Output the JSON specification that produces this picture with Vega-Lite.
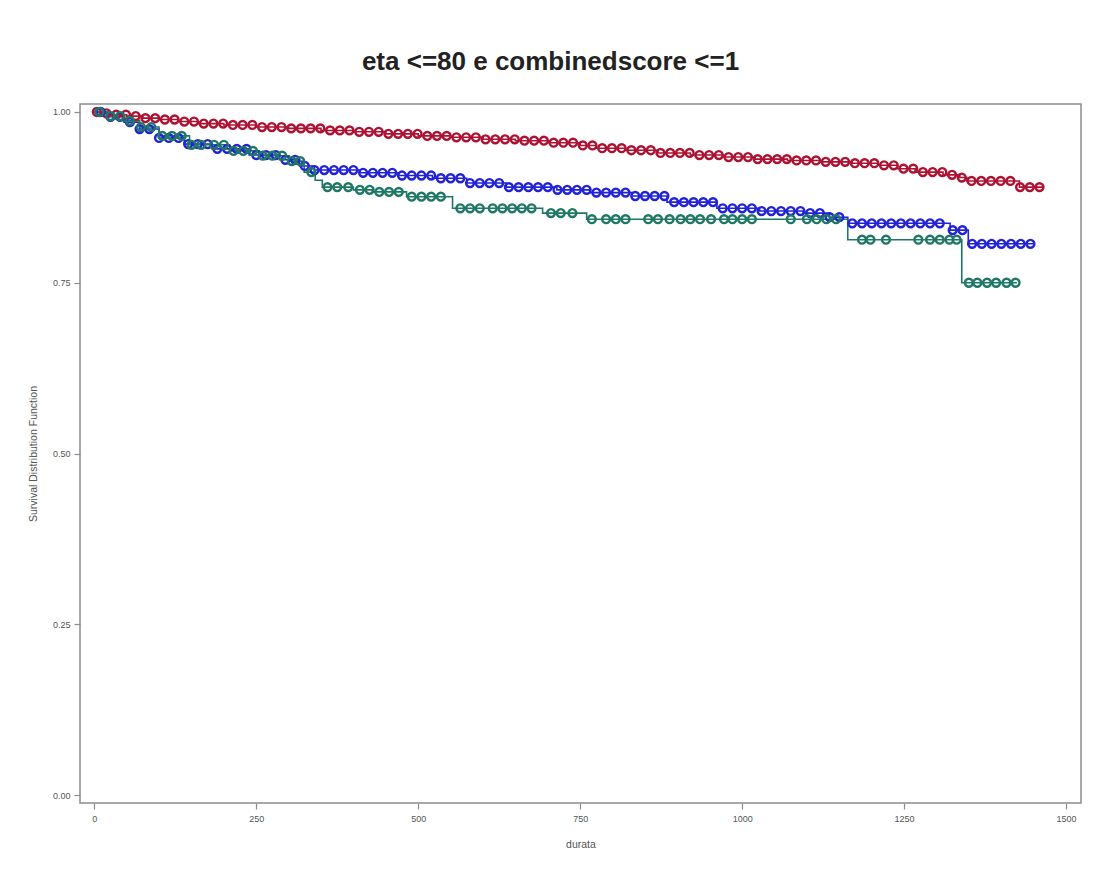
{
  "$schema": "https://vega.github.io/schema/vega-lite/v6.json",
  "width": 1001,
  "height": 699,
  "autosize": {"type": "none"},
  "padding": {"left": 80, "top": 104, "right": 22, "bottom": 66},
  "background": "white",
  "config": {
    "view": {"stroke": "#8c8c8c", "strokeWidth": 1.5},
    "font": "Liberation Sans",
    "axis": {
      "domain": false,
      "grid": false,
      "tickColor": "#8c8c8c",
      "tickSize": 6,
      "tickWidth": 1.2,
      "labelColor": "#555555",
      "labelFontSize": 9,
      "labelFont": "Liberation Sans",
      "titleColor": "#555555",
      "titleFontSize": 10.5,
      "titleFontWeight": "normal",
      "titleFont": "Liberation Sans"
    }
  },
  "title": {
    "text": "eta <=80 e combinedscore <=1",
    "fontSize": 26,
    "fontWeight": "bold",
    "color": "#222222",
    "font": "Liberation Sans",
    "anchor": "middle",
    "frame": "group",
    "dx": -30,
    "dy": 24,
    "offset": 31,
    "baseline": "alphabetic"
  },
  "datasets": {
    "steps": [
      {"g": "1", "t": 0, "s": 1.000}, {"g": "1", "t": 10, "s": 0.998}, {"g": "1", "t": 30, "s": 0.996}, {"g": "1", "t": 50, "s": 0.994},
      {"g": "1", "t": 75, "s": 0.991}, {"g": "1", "t": 100, "s": 0.989}, {"g": "1", "t": 130, "s": 0.986}, {"g": "1", "t": 160, "s": 0.983},
      {"g": "1", "t": 200, "s": 0.981}, {"g": "1", "t": 250, "s": 0.978}, {"g": "1", "t": 300, "s": 0.976}, {"g": "1", "t": 350, "s": 0.973},
      {"g": "1", "t": 400, "s": 0.971}, {"g": "1", "t": 450, "s": 0.968}, {"g": "1", "t": 500, "s": 0.965}, {"g": "1", "t": 550, "s": 0.963},
      {"g": "1", "t": 600, "s": 0.960}, {"g": "1", "t": 650, "s": 0.958}, {"g": "1", "t": 700, "s": 0.955}, {"g": "1", "t": 750, "s": 0.951},
      {"g": "1", "t": 775, "s": 0.947}, {"g": "1", "t": 820, "s": 0.944}, {"g": "1", "t": 870, "s": 0.940}, {"g": "1", "t": 920, "s": 0.937},
      {"g": "1", "t": 970, "s": 0.934}, {"g": "1", "t": 1020, "s": 0.931}, {"g": "1", "t": 1070, "s": 0.929}, {"g": "1", "t": 1120, "s": 0.927},
      {"g": "1", "t": 1170, "s": 0.925}, {"g": "1", "t": 1210, "s": 0.922}, {"g": "1", "t": 1240, "s": 0.917}, {"g": "1", "t": 1267, "s": 0.912},
      {"g": "1", "t": 1310, "s": 0.908}, {"g": "1", "t": 1336, "s": 0.904}, {"g": "1", "t": 1347, "s": 0.899}, {"g": "1", "t": 1428, "s": 0.890},
      {"g": "1", "t": 1465, "s": 0.890},

      {"g": "2", "t": 0, "s": 1.000}, {"g": "2", "t": 23, "s": 0.993}, {"g": "2", "t": 46, "s": 0.985}, {"g": "2", "t": 70, "s": 0.975},
      {"g": "2", "t": 100, "s": 0.962}, {"g": "2", "t": 139, "s": 0.953}, {"g": "2", "t": 182, "s": 0.946}, {"g": "2", "t": 239, "s": 0.937},
      {"g": "2", "t": 286, "s": 0.930}, {"g": "2", "t": 317, "s": 0.921}, {"g": "2", "t": 340, "s": 0.915}, {"g": "2", "t": 410, "s": 0.911},
      {"g": "2", "t": 470, "s": 0.907}, {"g": "2", "t": 522, "s": 0.903}, {"g": "2", "t": 575, "s": 0.896}, {"g": "2", "t": 636, "s": 0.890},
      {"g": "2", "t": 714, "s": 0.886}, {"g": "2", "t": 765, "s": 0.882}, {"g": "2", "t": 830, "s": 0.877}, {"g": "2", "t": 884, "s": 0.868},
      {"g": "2", "t": 961, "s": 0.859}, {"g": "2", "t": 1027, "s": 0.855}, {"g": "2", "t": 1094, "s": 0.852}, {"g": "2", "t": 1135, "s": 0.846},
      {"g": "2", "t": 1163, "s": 0.837}, {"g": "2", "t": 1321, "s": 0.827}, {"g": "2", "t": 1349, "s": 0.807}, {"g": "2", "t": 1449, "s": 0.807},

      {"g": "3", "t": 0, "s": 1.000}, {"g": "3", "t": 23, "s": 0.994}, {"g": "3", "t": 46, "s": 0.987}, {"g": "3", "t": 70, "s": 0.978},
      {"g": "3", "t": 100, "s": 0.965}, {"g": "3", "t": 147, "s": 0.952}, {"g": "3", "t": 209, "s": 0.943}, {"g": "3", "t": 255, "s": 0.936},
      {"g": "3", "t": 301, "s": 0.928}, {"g": "3", "t": 324, "s": 0.912}, {"g": "3", "t": 341, "s": 0.900}, {"g": "3", "t": 352, "s": 0.890},
      {"g": "3", "t": 400, "s": 0.886}, {"g": "3", "t": 429, "s": 0.883}, {"g": "3", "t": 482, "s": 0.876}, {"g": "3", "t": 553, "s": 0.859},
      {"g": "3", "t": 692, "s": 0.852}, {"g": "3", "t": 760, "s": 0.843}, {"g": "3", "t": 1163, "s": 0.813}, {"g": "3", "t": 1339, "s": 0.750},
      {"g": "3", "t": 1424, "s": 0.750}
    ],
    "cens": [
      {"g": "1", "t": 4, "s": 1.000}, {"g": "1", "t": 19, "s": 0.998}, {"g": "1", "t": 34, "s": 0.996}, {"g": "1", "t": 49, "s": 0.996},
      {"g": "1", "t": 64, "s": 0.994}, {"g": "1", "t": 79, "s": 0.991}, {"g": "1", "t": 94, "s": 0.991}, {"g": "1", "t": 109, "s": 0.989},
      {"g": "1", "t": 124, "s": 0.989}, {"g": "1", "t": 139, "s": 0.986}, {"g": "1", "t": 154, "s": 0.986}, {"g": "1", "t": 169, "s": 0.983},
      {"g": "1", "t": 184, "s": 0.983}, {"g": "1", "t": 199, "s": 0.983}, {"g": "1", "t": 214, "s": 0.981}, {"g": "1", "t": 229, "s": 0.981},
      {"g": "1", "t": 244, "s": 0.981}, {"g": "1", "t": 259, "s": 0.978}, {"g": "1", "t": 274, "s": 0.978}, {"g": "1", "t": 289, "s": 0.978},
      {"g": "1", "t": 304, "s": 0.976}, {"g": "1", "t": 319, "s": 0.976}, {"g": "1", "t": 334, "s": 0.976}, {"g": "1", "t": 349, "s": 0.976},
      {"g": "1", "t": 364, "s": 0.973}, {"g": "1", "t": 379, "s": 0.973}, {"g": "1", "t": 394, "s": 0.973}, {"g": "1", "t": 409, "s": 0.971},
      {"g": "1", "t": 424, "s": 0.971}, {"g": "1", "t": 439, "s": 0.971}, {"g": "1", "t": 454, "s": 0.968}, {"g": "1", "t": 469, "s": 0.968},
      {"g": "1", "t": 484, "s": 0.968}, {"g": "1", "t": 499, "s": 0.968}, {"g": "1", "t": 514, "s": 0.965}, {"g": "1", "t": 529, "s": 0.965},
      {"g": "1", "t": 544, "s": 0.965}, {"g": "1", "t": 559, "s": 0.963}, {"g": "1", "t": 574, "s": 0.963}, {"g": "1", "t": 589, "s": 0.963},
      {"g": "1", "t": 604, "s": 0.960}, {"g": "1", "t": 619, "s": 0.960}, {"g": "1", "t": 634, "s": 0.960}, {"g": "1", "t": 649, "s": 0.960},
      {"g": "1", "t": 664, "s": 0.958}, {"g": "1", "t": 679, "s": 0.958}, {"g": "1", "t": 694, "s": 0.958}, {"g": "1", "t": 709, "s": 0.955},
      {"g": "1", "t": 724, "s": 0.955}, {"g": "1", "t": 739, "s": 0.955}, {"g": "1", "t": 754, "s": 0.951}, {"g": "1", "t": 769, "s": 0.951},
      {"g": "1", "t": 784, "s": 0.947}, {"g": "1", "t": 799, "s": 0.947}, {"g": "1", "t": 814, "s": 0.947}, {"g": "1", "t": 829, "s": 0.944},
      {"g": "1", "t": 844, "s": 0.944}, {"g": "1", "t": 859, "s": 0.944}, {"g": "1", "t": 874, "s": 0.940}, {"g": "1", "t": 889, "s": 0.940},
      {"g": "1", "t": 904, "s": 0.940}, {"g": "1", "t": 919, "s": 0.940}, {"g": "1", "t": 934, "s": 0.937}, {"g": "1", "t": 949, "s": 0.937},
      {"g": "1", "t": 964, "s": 0.937}, {"g": "1", "t": 979, "s": 0.934}, {"g": "1", "t": 994, "s": 0.934}, {"g": "1", "t": 1009, "s": 0.934},
      {"g": "1", "t": 1024, "s": 0.931}, {"g": "1", "t": 1039, "s": 0.931}, {"g": "1", "t": 1054, "s": 0.931}, {"g": "1", "t": 1069, "s": 0.931},
      {"g": "1", "t": 1084, "s": 0.929}, {"g": "1", "t": 1099, "s": 0.929}, {"g": "1", "t": 1114, "s": 0.929}, {"g": "1", "t": 1129, "s": 0.927},
      {"g": "1", "t": 1144, "s": 0.927}, {"g": "1", "t": 1159, "s": 0.927}, {"g": "1", "t": 1174, "s": 0.925}, {"g": "1", "t": 1189, "s": 0.925},
      {"g": "1", "t": 1204, "s": 0.925}, {"g": "1", "t": 1219, "s": 0.922}, {"g": "1", "t": 1234, "s": 0.922}, {"g": "1", "t": 1249, "s": 0.917},
      {"g": "1", "t": 1264, "s": 0.917}, {"g": "1", "t": 1279, "s": 0.912}, {"g": "1", "t": 1294, "s": 0.912}, {"g": "1", "t": 1309, "s": 0.912},
      {"g": "1", "t": 1324, "s": 0.908}, {"g": "1", "t": 1339, "s": 0.904}, {"g": "1", "t": 1354, "s": 0.899}, {"g": "1", "t": 1369, "s": 0.899},
      {"g": "1", "t": 1384, "s": 0.899}, {"g": "1", "t": 1399, "s": 0.899}, {"g": "1", "t": 1414, "s": 0.899}, {"g": "1", "t": 1429, "s": 0.890},
      {"g": "1", "t": 1444, "s": 0.890}, {"g": "1", "t": 1459, "s": 0.890},

      {"g": "2", "t": 10, "s": 1.000}, {"g": "2", "t": 25, "s": 0.993}, {"g": "2", "t": 40, "s": 0.993}, {"g": "2", "t": 55, "s": 0.985},
      {"g": "2", "t": 70, "s": 0.975}, {"g": "2", "t": 85, "s": 0.975}, {"g": "2", "t": 100, "s": 0.962}, {"g": "2", "t": 115, "s": 0.962},
      {"g": "2", "t": 130, "s": 0.962}, {"g": "2", "t": 145, "s": 0.953}, {"g": "2", "t": 160, "s": 0.953}, {"g": "2", "t": 175, "s": 0.953},
      {"g": "2", "t": 190, "s": 0.946}, {"g": "2", "t": 205, "s": 0.946}, {"g": "2", "t": 220, "s": 0.946}, {"g": "2", "t": 235, "s": 0.946},
      {"g": "2", "t": 250, "s": 0.937}, {"g": "2", "t": 265, "s": 0.937}, {"g": "2", "t": 280, "s": 0.937}, {"g": "2", "t": 295, "s": 0.930},
      {"g": "2", "t": 310, "s": 0.930}, {"g": "2", "t": 325, "s": 0.921}, {"g": "2", "t": 340, "s": 0.915}, {"g": "2", "t": 355, "s": 0.915},
      {"g": "2", "t": 370, "s": 0.915}, {"g": "2", "t": 385, "s": 0.915}, {"g": "2", "t": 400, "s": 0.915}, {"g": "2", "t": 415, "s": 0.911},
      {"g": "2", "t": 430, "s": 0.911}, {"g": "2", "t": 445, "s": 0.911}, {"g": "2", "t": 460, "s": 0.911}, {"g": "2", "t": 475, "s": 0.907},
      {"g": "2", "t": 490, "s": 0.907}, {"g": "2", "t": 505, "s": 0.907}, {"g": "2", "t": 520, "s": 0.907}, {"g": "2", "t": 535, "s": 0.903},
      {"g": "2", "t": 550, "s": 0.903}, {"g": "2", "t": 565, "s": 0.903}, {"g": "2", "t": 580, "s": 0.896}, {"g": "2", "t": 595, "s": 0.896},
      {"g": "2", "t": 610, "s": 0.896}, {"g": "2", "t": 625, "s": 0.896}, {"g": "2", "t": 640, "s": 0.890}, {"g": "2", "t": 655, "s": 0.890},
      {"g": "2", "t": 670, "s": 0.890}, {"g": "2", "t": 685, "s": 0.890}, {"g": "2", "t": 700, "s": 0.890}, {"g": "2", "t": 715, "s": 0.886},
      {"g": "2", "t": 730, "s": 0.886}, {"g": "2", "t": 745, "s": 0.886}, {"g": "2", "t": 760, "s": 0.886}, {"g": "2", "t": 775, "s": 0.882},
      {"g": "2", "t": 790, "s": 0.882}, {"g": "2", "t": 805, "s": 0.882}, {"g": "2", "t": 820, "s": 0.882}, {"g": "2", "t": 835, "s": 0.877},
      {"g": "2", "t": 850, "s": 0.877}, {"g": "2", "t": 865, "s": 0.877}, {"g": "2", "t": 880, "s": 0.877}, {"g": "2", "t": 895, "s": 0.868},
      {"g": "2", "t": 910, "s": 0.868}, {"g": "2", "t": 925, "s": 0.868}, {"g": "2", "t": 940, "s": 0.868}, {"g": "2", "t": 955, "s": 0.868},
      {"g": "2", "t": 970, "s": 0.859}, {"g": "2", "t": 985, "s": 0.859}, {"g": "2", "t": 1000, "s": 0.859}, {"g": "2", "t": 1015, "s": 0.859},
      {"g": "2", "t": 1030, "s": 0.855}, {"g": "2", "t": 1045, "s": 0.855}, {"g": "2", "t": 1060, "s": 0.855}, {"g": "2", "t": 1075, "s": 0.855},
      {"g": "2", "t": 1090, "s": 0.855}, {"g": "2", "t": 1105, "s": 0.852}, {"g": "2", "t": 1120, "s": 0.852}, {"g": "2", "t": 1135, "s": 0.846},
      {"g": "2", "t": 1150, "s": 0.846}, {"g": "2", "t": 1170, "s": 0.837}, {"g": "2", "t": 1185, "s": 0.837}, {"g": "2", "t": 1200, "s": 0.837},
      {"g": "2", "t": 1215, "s": 0.837}, {"g": "2", "t": 1230, "s": 0.837}, {"g": "2", "t": 1245, "s": 0.837}, {"g": "2", "t": 1260, "s": 0.837},
      {"g": "2", "t": 1275, "s": 0.837}, {"g": "2", "t": 1290, "s": 0.837}, {"g": "2", "t": 1305, "s": 0.837}, {"g": "2", "t": 1325, "s": 0.827},
      {"g": "2", "t": 1340, "s": 0.827}, {"g": "2", "t": 1355, "s": 0.807}, {"g": "2", "t": 1370, "s": 0.807}, {"g": "2", "t": 1385, "s": 0.807},
      {"g": "2", "t": 1400, "s": 0.807}, {"g": "2", "t": 1415, "s": 0.807}, {"g": "2", "t": 1430, "s": 0.807}, {"g": "2", "t": 1445, "s": 0.807},

      {"g": "3", "t": 8, "s": 1.000}, {"g": "3", "t": 25, "s": 0.994}, {"g": "3", "t": 40, "s": 0.994}, {"g": "3", "t": 55, "s": 0.987},
      {"g": "3", "t": 72, "s": 0.978}, {"g": "3", "t": 88, "s": 0.978}, {"g": "3", "t": 105, "s": 0.965}, {"g": "3", "t": 120, "s": 0.965},
      {"g": "3", "t": 135, "s": 0.965}, {"g": "3", "t": 150, "s": 0.952}, {"g": "3", "t": 165, "s": 0.952}, {"g": "3", "t": 185, "s": 0.952},
      {"g": "3", "t": 200, "s": 0.952}, {"g": "3", "t": 215, "s": 0.943}, {"g": "3", "t": 230, "s": 0.943}, {"g": "3", "t": 245, "s": 0.943},
      {"g": "3", "t": 260, "s": 0.936}, {"g": "3", "t": 275, "s": 0.936}, {"g": "3", "t": 290, "s": 0.936}, {"g": "3", "t": 305, "s": 0.928},
      {"g": "3", "t": 318, "s": 0.928}, {"g": "3", "t": 335, "s": 0.912}, {"g": "3", "t": 360, "s": 0.890}, {"g": "3", "t": 375, "s": 0.890},
      {"g": "3", "t": 392, "s": 0.890}, {"g": "3", "t": 410, "s": 0.886}, {"g": "3", "t": 425, "s": 0.886}, {"g": "3", "t": 440, "s": 0.883},
      {"g": "3", "t": 455, "s": 0.883}, {"g": "3", "t": 470, "s": 0.883}, {"g": "3", "t": 490, "s": 0.876}, {"g": "3", "t": 505, "s": 0.876},
      {"g": "3", "t": 520, "s": 0.876}, {"g": "3", "t": 535, "s": 0.876}, {"g": "3", "t": 565, "s": 0.859}, {"g": "3", "t": 580, "s": 0.859},
      {"g": "3", "t": 595, "s": 0.859}, {"g": "3", "t": 615, "s": 0.859}, {"g": "3", "t": 630, "s": 0.859}, {"g": "3", "t": 645, "s": 0.859},
      {"g": "3", "t": 660, "s": 0.859}, {"g": "3", "t": 675, "s": 0.859}, {"g": "3", "t": 705, "s": 0.852}, {"g": "3", "t": 720, "s": 0.852},
      {"g": "3", "t": 738, "s": 0.852}, {"g": "3", "t": 768, "s": 0.843}, {"g": "3", "t": 790, "s": 0.843}, {"g": "3", "t": 805, "s": 0.843},
      {"g": "3", "t": 820, "s": 0.843}, {"g": "3", "t": 855, "s": 0.843}, {"g": "3", "t": 870, "s": 0.843}, {"g": "3", "t": 888, "s": 0.843},
      {"g": "3", "t": 905, "s": 0.843}, {"g": "3", "t": 920, "s": 0.843}, {"g": "3", "t": 935, "s": 0.843}, {"g": "3", "t": 952, "s": 0.843},
      {"g": "3", "t": 972, "s": 0.843}, {"g": "3", "t": 985, "s": 0.843}, {"g": "3", "t": 1000, "s": 0.843}, {"g": "3", "t": 1015, "s": 0.843},
      {"g": "3", "t": 1075, "s": 0.843}, {"g": "3", "t": 1100, "s": 0.843}, {"g": "3", "t": 1115, "s": 0.843}, {"g": "3", "t": 1130, "s": 0.843},
      {"g": "3", "t": 1145, "s": 0.843}, {"g": "3", "t": 1185, "s": 0.813}, {"g": "3", "t": 1198, "s": 0.813}, {"g": "3", "t": 1222, "s": 0.813},
      {"g": "3", "t": 1272, "s": 0.813}, {"g": "3", "t": 1290, "s": 0.813}, {"g": "3", "t": 1305, "s": 0.813}, {"g": "3", "t": 1320, "s": 0.813},
      {"g": "3", "t": 1331, "s": 0.813}, {"g": "3", "t": 1350, "s": 0.750}, {"g": "3", "t": 1363, "s": 0.750}, {"g": "3", "t": 1378, "s": 0.750},
      {"g": "3", "t": 1392, "s": 0.750}, {"g": "3", "t": 1408, "s": 0.750}, {"g": "3", "t": 1422, "s": 0.750}
    ]
  },
  "encoding": {
    "x": {
      "field": "t",
      "type": "quantitative",
      "title": "durata",
      "scale": {"domain": [-22, 1523], "nice": false, "zero": false},
      "axis": {"values": [0, 250, 500, 750, 1000, 1250, 1500], "format": "d", "labelPadding": 5, "titlePadding": 16}
    },
    "y": {
      "field": "s",
      "type": "quantitative",
      "title": "Survival Distribution Function",
      "scale": {"domain": [-0.0117, 1.0117], "nice": false, "zero": false},
      "axis": {"values": [0, 0.25, 0.5, 0.75, 1], "format": ".2f", "labelPadding": 4, "titlePadding": 14}
    },
    "color": {
      "field": "g",
      "type": "nominal",
      "legend": null,
      "scale": {"domain": ["1", "2", "3"], "range": ["#ad1232", "#2222d6", "#1f7865"]}
    }
  },
  "layer": [
    {
      "data": {"name": "steps"},
      "mark": {"type": "line", "interpolate": "step-after", "strokeWidth": 1.6}
    },
    {
      "data": {"name": "cens"},
      "mark": {"type": "point", "shape": "circle", "filled": false, "size": 62, "strokeWidth": 2.4, "opacity": 1}
    }
  ]
}
